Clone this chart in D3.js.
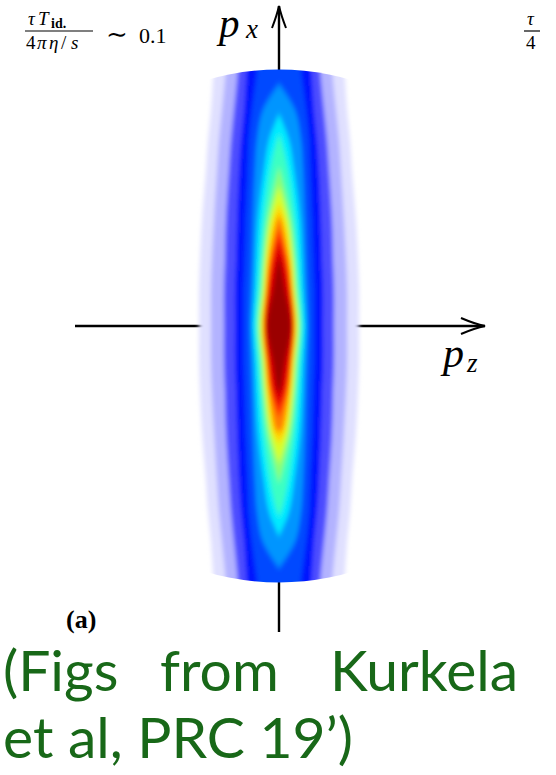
<!DOCTYPE html>
<html>
<head>
<meta charset="utf-8">
<script src="https://cdn.jsdelivr.net/npm/d3@7"></script>
<style>
  body { margin: 0; background: #fff; }
  svg { display: block; }
</style>
</head>
<body>
<svg id="chart" width="556" height="775"></svg>
<script>
// contour levels of the distribution f(pz, px), as a fraction of its maximum
const levels = [0.02, 0.05, 0.08, 0.12, 0.16, 0.22, 0.30, 0.38, 0.46, 0.54, 0.62, 0.70, 0.78, 0.86, 0.94];
const rowsPx = [2.75, 2.46, 2.16, 1.86, 1.56, 1.06, 0.66, 0.36, 0, -0.36, -0.66, -1.06, -1.56, -1.86, -2.16, -2.46, -2.75];
// half width in pz of each level on each row (null: level not reached there)
const halfWidth = [
  [.64, .66, .68, .71, .73, .77, .79, .80, .80, .80, .79, .77, .73, .71, .68, .66, .64],
  [.52, .54, .57, .60, .62, .65, .67, .68, .68, .68, .67, .65, .62, .60, .57, .54, .52],
  [.40, .42, .45, .48, .50, .53, .54, .55, .55, .55, .54, .53, .50, .48, .45, .42, .40],
  [.31, .33, .35, .38, .40, .42, .43, .44, .44, .44, .43, .42, .40, .38, .35, .33, .31],
  [.19, .23, .27, .30, .31, .33, .34, .35, .35, .35, .34, .33, .31, .30, .27, .23, .19],
  [null, null, .16, .22, .24, .26, .27, .28, .29, .28, .27, .26, .24, .22, .16, null, null],
  [null, null, null, .10, .15, .21, .23, .24, .26, .24, .23, .21, .15, .10, null, null, null],
  [null, null, null, .02, .09, .16, .19, .21, .23, .21, .19, .16, .09, .02, null, null, null],
  [null, null, null, null, null, .12, .16, .18, .21, .18, .16, .12, null, null, null, null, null],
  [null, null, null, null, null, .09, .14, .16, .19, .16, .14, .09, null, null, null, null, null],
  [null, null, null, null, null, .06, .12, .14, .17, .14, .12, .06, null, null, null, null, null],
  [null, null, null, null, null, .02, .10, .13, .16, .13, .10, .02, null, null, null, null, null],
  [null, null, null, null, null, null, .08, .12, .15, .12, .08, null, null, null, null, null, null],
  [null, null, null, null, null, null, .05, .10, .14, .10, .05, null, null, null, null, null, null],
  [null, null, null, null, null, null, .01, .06, .12, .06, .01, null, null, null, null, null, null]
];
// px where a closed level pinches off, above and below the centre
const tipTop =    [null, null, null, null, null, 2.42, 2.12, 1.92, 1.60, 1.40, 1.22, 1.10, 0.98, 0.86, 0.68];
const tipBottom = [null, null, null, null, null, -2.42, -2.10, -1.90, -1.58, -1.38, -1.18, -1.04, -0.92, -0.80, -0.64];
// colour map (white -> jet)
const colorStops = [0, 0.04, 0.08, 0.12, 0.36, 0.62, 0.86, 1];
const colorRange = ["#ffffff", "#dcdcff", "#9a9aff", "#0000ff", "#00ffff", "#ffff00", "#ff0000", "#800000"];
const pCut = 2.565;            // |p| cut of the plotted region
const pzAxis = [-2.04, 2.06];  // horizontal axis extent
const pxAxis = [-3.06, 3.20];  // vertical axis extent

const svg = d3.select("#chart");
const x = d3.scaleLinear().domain([-1, 1]).range([179, 379]);
const y = d3.scaleLinear().domain([-1, 1]).range([426, 226]);
const color = d3.scaleLinear().domain(colorStops).range(colorRange).interpolate(d3.interpolateRgb);

// axes (drawn under the density)
const ax = svg.append("g").attr("stroke", "#000").attr("stroke-width", 2.4).attr("fill", "none");
ax.append("line").attr("x1", x(pzAxis[0])).attr("x2", x(pzAxis[1])).attr("y1", y(0)).attr("y2", y(0));
ax.append("line").attr("x1", x(0)).attr("x2", x(0)).attr("y1", y(pxAxis[0])).attr("y2", y(pxAxis[1]));
const hx = x(pzAxis[1]), hy = y(0);
ax.append("path").attr("stroke-width", 2)
  .attr("d", `M${hx - 24},${hy - 8} Q${hx - 10},${hy - 2} ${hx},${hy} Q${hx - 10},${hy + 2} ${hx - 24},${hy + 8}`);
const vx = x(0), vy = y(pxAxis[1]);
ax.append("path").attr("stroke-width", 2)
  .attr("d", `M${vx - 7},${vy + 22} Q${vx - 2},${vy + 9} ${vx},${vy} Q${vx + 2},${vy + 9} ${vx + 7},${vy + 22}`);

// density as nested filled contours, smoothed by a blur and cut at |p| = pCut
const defs = svg.append("defs");
defs.append("clipPath").attr("id", "cut").append("circle")
  .attr("cx", x(0)).attr("cy", y(0)).attr("r", x(pCut) - x(0));
defs.append("filter").attr("id", "soft").attr("x", "-20%").attr("y", "-10%").attr("width", "140%").attr("height", "120%")
  .append("feGaussianBlur").attr("stdDeviation", "2.2 3.2");

const area = d3.area()
  .y(d => y(d.px))
  .x0(d => x(-d.hw))
  .x1(d => x(d.hw))
  .curve(d3.curveCatmullRom.alpha(0.5));

const dens = svg.append("g").attr("clip-path", "url(#cut)")
  .append("g").attr("filter", "url(#soft)");

levels.forEach((lv, k) => {
  const pts = [];
  if (tipTop[k] != null) pts.push({ px: tipTop[k], hw: 0 });
  rowsPx.forEach((p, i) => { if (halfWidth[k][i] != null) pts.push({ px: p, hw: halfWidth[k][i] }); });
  if (tipBottom[k] != null) pts.push({ px: tipBottom[k], hw: 0 });
  const next = k < levels.length - 1 ? levels[k + 1] : 1;
  dens.append("path")
    .datum(pts)
    .attr("fill", color((lv + next) / 2))
    .attr("d", area);
});

// labels
const serif = "'Liberation Serif', 'DejaVu Serif', serif";
const t1 = svg.append("text").attr("x", x(0) - 60).attr("y", 37)
  .style("font-family", serif).style("font-style", "italic").style("font-size", "41px");
t1.append("tspan").text("p");
t1.append("tspan").attr("x", x(0) - 33).attr("dy", 1).style("font-size", "27px").text("x");

const t2 = svg.append("text").attr("x", 443).attr("y", y(0) + 41)
  .style("font-family", serif).style("font-style", "italic").style("font-size", "42px");
t2.append("tspan").text("p");
t2.append("tspan").attr("x", 467).attr("dy", 5).style("font-size", "27px").text("z");

// ratio label, top left
const num = svg.append("text").attr("y", 25).style("font-family", serif).style("font-size", "19px");
num.append("tspan").attr("x", 28).style("font-style", "italic").text("τ");
num.append("tspan").attr("x", 38).style("font-style", "italic").text("T");
num.append("tspan").attr("x", 51).attr("dy", 3).style("font-size", "14px").style("font-weight", "bold").text("id.");
svg.append("line").attr("x1", 25).attr("x2", 93).attr("y1", 31).attr("y2", 31).attr("stroke", "#000").attr("stroke-width", 1.2);
const den = svg.append("text").attr("y", 49).style("font-family", serif).style("font-size", "19px");
den.append("tspan").attr("x", 26).text("4");
den.append("tspan").attr("x", 37).style("font-style", "italic").text("π");
den.append("tspan").attr("x", 49).style("font-style", "italic").text("η");
den.append("tspan").attr("x", 61).text("/");
den.append("tspan").attr("x", 71).style("font-style", "italic").text("s");
svg.append("text").attr("x", 106).attr("y", 43).style("font-family", serif).style("font-size", "26px").text("∼");
svg.append("text").attr("x", 139).attr("y", 43).style("font-family", serif).style("font-size", "22px").text("0.1");

// next panel's label, cut by the right edge
svg.append("text").attr("x", 527).attr("y", 25).style("font-family", serif).style("font-style", "italic").style("font-size", "19px").text("τ");
svg.append("line").attr("x1", 524).attr("x2", 540).attr("y1", 31).attr("y2", 31).attr("stroke", "#000").attr("stroke-width", 1.2);
svg.append("text").attr("x", 526).attr("y", 49).style("font-family", serif).style("font-size", "19px").text("4");

svg.append("text").attr("x", 66).attr("y", 628).style("font-family", serif).style("font-weight", "bold").style("font-size", "26px").text("(a)");

// source note
const green = "#186818";
const line1 = [["(Figs", 3], ["from", 160], ["Kurkela", 330]];
line1.forEach(([w, px0]) => {
  svg.append("text").attr("x", px0).attr("y", 691).attr("fill", green)
    .style("font-family", "Lato, 'Open Sans', sans-serif").style("font-size", "57px").text(w);
});
svg.append("text").attr("x", 3).attr("y", 758).attr("fill", green)
  .style("font-family", "Lato, 'Open Sans', sans-serif").style("font-size", "57px").text("et al, PRC 19’)");
</script>
</body>
</html>
